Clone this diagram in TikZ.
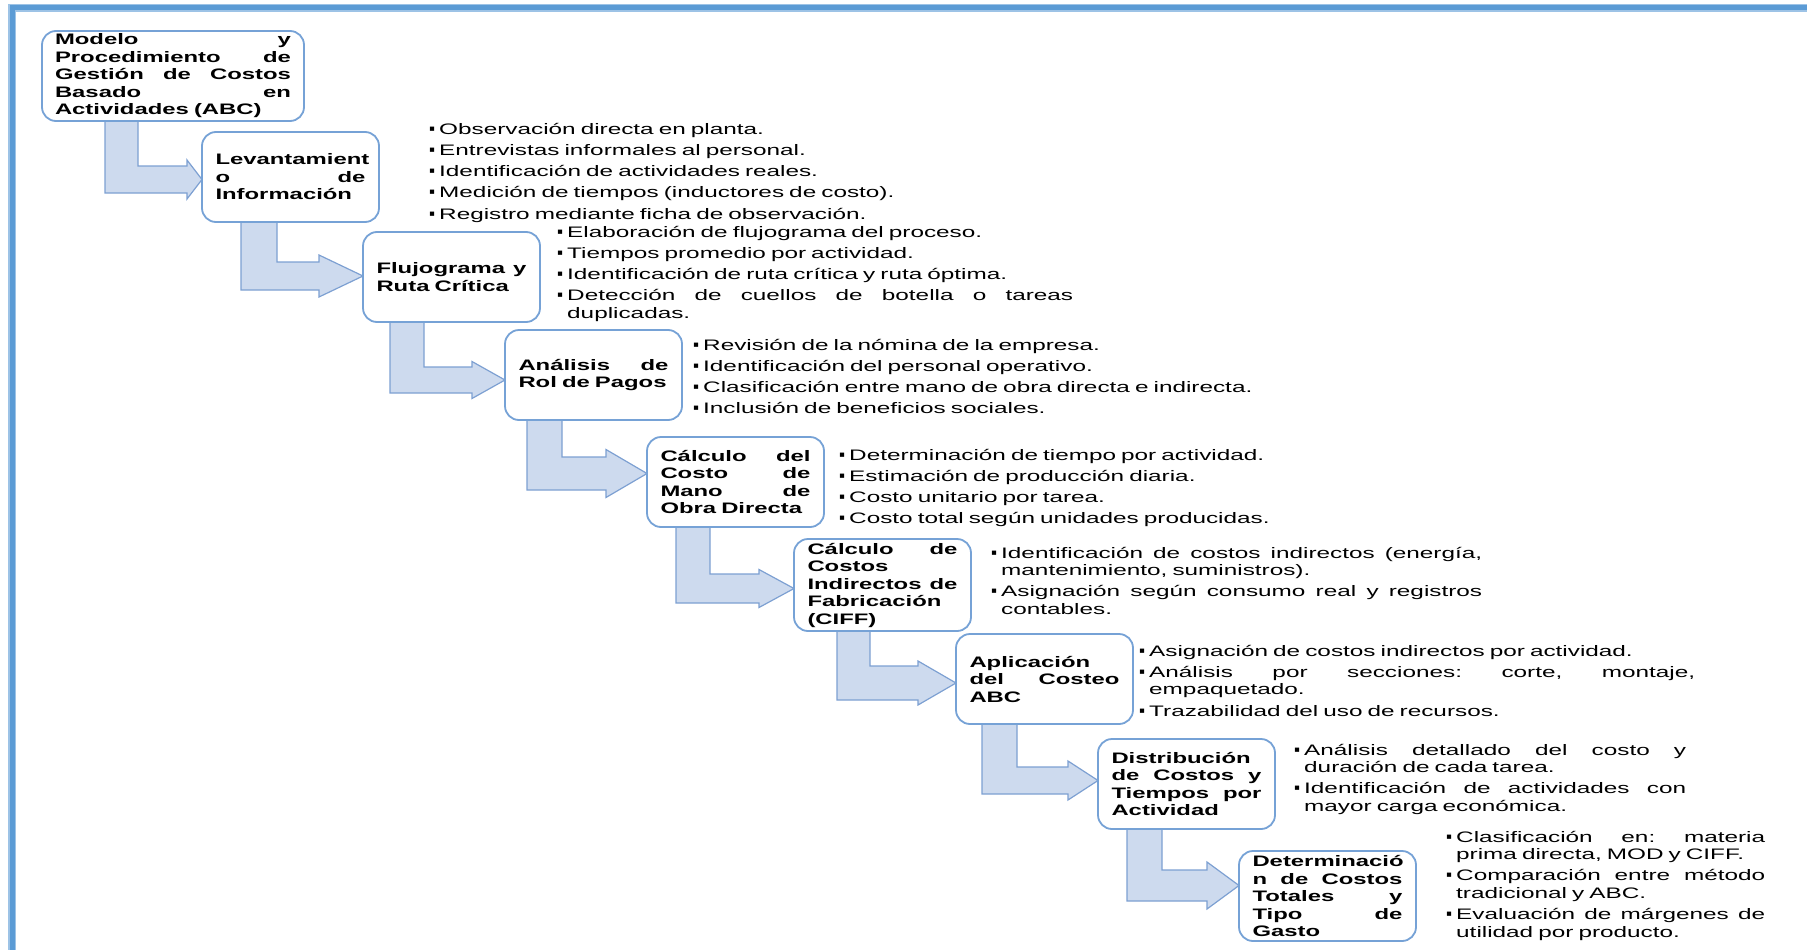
\documentclass[tikz,border=0pt]{standalone}
\usepackage{fontspec}
\setmainfont{Liberation Sans}[FakeStretch=1.60]
\newfontfamily\boxfont{Liberation Sans}[FakeStretch=1.57]
\newfontfamily\bulletfont{Liberation Sans}
\usetikzlibrary{backgrounds}

\definecolor{frameblue}{RGB}{91,155,213}
\definecolor{framelight}{RGB}{157,195,230}
\definecolor{boxline}{RGB}{118,162,214}
\definecolor{arrowfill}{RGB}{205,218,238}
\definecolor{arrowline}{RGB}{125,160,210}

% bullet mark, hanging indent and gap between bullet items
\newcommand\bmark{\makebox[10pt][l]{\bulletfont\fontsize{17}{17}\selectfont ▪}}
\newcommand\hind{\hspace*{10pt}}
\newcommand\gap{\\[3.8pt]}

% bent block arrow from the bottom of one box to the left side of the next
% #1 from, #2 to, #3/#4 shaft left/right x, #5/#6 shaft top/bottom y,
% #7 head base x, #8 head half height
\newcommand\bentarrow[8]{%
  \coordinate (sl) at (#3,0);
  \coordinate (sr) at (#4,0);
  \coordinate (hx) at (#7,0);
  \coordinate (st) at (0,#5);
  \coordinate (sb) at (0,#6);
  \coordinate (hm) at (0,{(#5+#6)/2});
  \coordinate (ht) at (0,{(#5+#6)/2-#8});
  \coordinate (hb) at (0,{(#5+#6)/2+#8});
  \filldraw[flow] (sl |- #1.south) -- (sr |- #1.south) -- (sr |- st) -- (hx |- st)
    -- (hx |- ht) -- (#2.west |- hm) -- (hx |- hb) -- (hx |- sb) -- (sl |- sb) -- cycle;
}

\tikzset{
  stepbox/.style={draw=boxline, line width=1.8pt, fill=white, rounded corners=14pt,
    anchor=north west, outer sep=0pt, minimum height=90pt, text width=150pt,
    inner xsep=13.5pt, inner ysep=0pt, align=left,
    font=\boxfont\bfseries\fontsize{15.2}{17.5}\selectfont},
  notes/.style={anchor=base west, inner sep=0pt, align=left,
    font=\fontsize{15.2}{17.5}\selectfont},
  flow/.style={fill=arrowfill, draw=arrowline, line width=1.2pt, line join=miter},
}

\begin{document}
\begin{tikzpicture}[x=1pt, y=-1pt]
\useasboundingbox (0,0) rectangle (1807,950);

% outer frame (top and left edges)
\draw[line width=8pt, framelight] (12,950) -- (12,8) -- (1807,8);
\draw[line width=5pt, frameblue] (12,950) -- (12,8) -- (1807,8);

% process steps
\node[stepbox, text width=236pt, inner xsep=13pt] (b1) at (42,31)
  {Modelo\hfill y\\Procedimiento\hfill de\\Gestión\hfill de\hfill Costos\\Basado\hfill en\\Actividades (ABC)};
\node[stepbox] (b2) at (202,132) {Levantamient\\o\hfill de\\Información};
\node[stepbox] (b3) at (363,232) {Flujograma\hfill y\\Ruta Crítica};
\node[stepbox] (b4) at (505,330) {Análisis\hfill de\\Rol de Pagos};
\node[stepbox] (b5) at (647,437) {Cálculo\hfill del\\Costo\hfill de\\Mano\hfill de\\Obra Directa};
\node[stepbox, minimum height=92pt] (b6) at (794,539)
  {Cálculo\hfill de\\Costos\\Indirectos\hfill de\\Fabricación\\(CIFF)};
\node[stepbox] (b7) at (956,634) {Aplicación\\del\hfill Costeo\\ABC};
\node[stepbox] (b8) at (1098,739) {Distribución\\de\hfill Costos\hfill y\\Tiempos\hfill por\\Actividad};
\node[stepbox] (b9) at (1239,851) {Determinació\\n\hfill de\hfill Costos\\Totales\hfill y\\Tipo\hfill de\\Gasto};

% activities of each step
\node[notes, text width=520pt] (t1) at (429,134)
  {\bmark Observación directa en planta.\gap
   \bmark Entrevistas informales al personal.\gap
   \bmark Identificación de actividades reales.\gap
   \bmark Medición de tiempos (inductores de costo).\gap
   \bmark Registro mediante ficha de observación.};
\node[notes, text width=516pt] (t2) at (557,237)
  {\bmark Elaboración de flujograma del proceso.\gap
   \bmark Tiempos promedio por actividad.\gap
   \bmark Identificación de ruta crítica y ruta óptima.\gap
   \bmark Detección\hfill de\hfill cuellos\hfill de\hfill botella\hfill o\hfill tareas\\
   \hind duplicadas.};
\node[notes, text width=600pt] (t3) at (693,350)
  {\bmark Revisión de la nómina de la empresa.\gap
   \bmark Identificación del personal operativo.\gap
   \bmark Clasificación entre mano de obra directa e indirecta.\gap
   \bmark Inclusión de beneficios sociales.};
\node[notes, text width=600pt] (t4) at (839,460)
  {\bmark Determinación de tiempo por actividad.\gap
   \bmark Estimación de producción diaria.\gap
   \bmark Costo unitario por tarea.\gap
   \bmark Costo total según unidades producidas.};
\node[notes, text width=491pt] (t5) at (991,558)
  {\bmark Identificación\hfill de\hfill costos\hfill indirectos\hfill (energía,\\
   \hind mantenimiento, suministros).\gap
   \bmark Asignación\hfill según\hfill consumo\hfill real\hfill y\hfill registros\\
   \hind contables.};
\node[notes, text width=556pt] (t6) at (1139,656)
  {\bmark Asignación de costos indirectos por actividad.\gap
   \bmark Análisis\hfill por\hfill secciones:\hfill corte,\hfill montaje,\\
   \hind empaquetado.\gap
   \bmark Trazabilidad del uso de recursos.};
\node[notes, text width=392pt] (t7) at (1294,755)
  {\bmark Análisis\hfill detallado\hfill del\hfill costo\hfill y\\
   \hind duración de cada tarea.\gap
   \bmark Identificación\hfill de\hfill actividades\hfill con\\
   \hind mayor carga económica.};
\node[notes, text width=319pt] (t8) at (1446,842)
  {\bmark Clasificación\hfill en:\hfill materia\\
   \hind prima directa, MOD y CIFF.\gap
   \bmark Comparación\hfill entre\hfill método\\
   \hind tradicional y ABC.\gap
   \bmark Evaluación\hfill de\hfill márgenes\hfill de\\
   \hind utilidad por producto.};

% connecting block arrows, behind the boxes
\begin{scope}[on background layer]
  \bentarrow{b1}{b2}{105}{138}{166}{193}{187}{19.5}
  \bentarrow{b2}{b3}{241}{277}{262}{290}{319}{21}
  \bentarrow{b3}{b4}{390}{424}{367}{393}{472}{18.5}
  \bentarrow{b4}{b5}{527}{562}{457}{490}{606}{24}
  \bentarrow{b5}{b6}{676}{710}{574}{603}{759}{19}
  \bentarrow{b6}{b7}{837}{870}{666}{700}{918}{22}
  \bentarrow{b7}{b8}{982}{1017}{767}{794}{1068}{19.5}
  \bentarrow{b8}{b9}{1127}{1162}{870}{901}{1207}{23.5}
\end{scope}
\end{tikzpicture}
\end{document}
